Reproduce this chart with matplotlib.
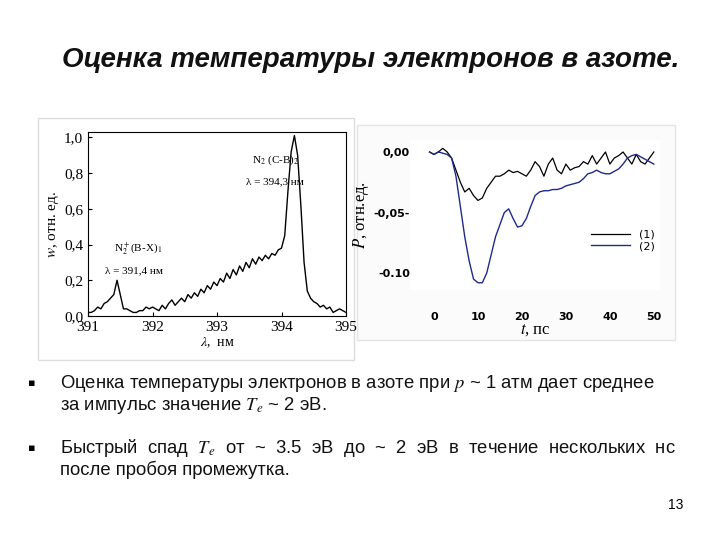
import matplotlib
matplotlib.use("Agg")
import matplotlib.pyplot as plt
import numpy as np

wl = np.round(np.arange(391.0, 395.001, 0.05), 2)
intensity = [0.02,0.02,0.03,0.05,0.04,0.07,0.08,0.10,0.12,0.20,0.12,0.04,0.04,0.03,0.02,0.02,
             0.03,0.03,0.05,0.04,0.05,0.04,0.03,0.06,0.04,0.07,0.09,0.06,0.08,0.10,0.08,0.12,
             0.10,0.13,0.11,0.15,0.13,0.17,0.15,0.19,0.17,0.21,0.19,0.24,0.21,0.26,0.23,0.28,
             0.25,0.30,0.27,0.32,0.29,0.33,0.31,0.34,0.32,0.35,0.34,0.37,0.38,0.45,0.70,0.92,
             1.01,0.90,0.62,0.30,0.14,0.10,0.08,0.07,0.05,0.06,0.04,0.05,0.02,0.03,0.04,0.03,0.02]

t = np.arange(-1, 51)
p1 = [0.000,-0.002,0.000,0.003,0.000,-0.005,-0.015,-0.025,-0.033,-0.030,-0.036,-0.040,-0.038,
      -0.030,-0.025,-0.020,-0.020,-0.018,-0.015,-0.017,-0.016,-0.018,-0.020,-0.015,-0.008,-0.012,
      -0.020,-0.010,-0.005,-0.015,-0.018,-0.010,-0.015,-0.013,-0.012,-0.008,-0.010,-0.003,-0.010,
      -0.005,0.000,-0.010,-0.005,-0.003,0.000,-0.005,-0.010,-0.002,-0.008,-0.010,-0.005,0.000]
p2 = [0.000,-0.002,0.000,-0.001,-0.002,-0.005,-0.020,-0.045,-0.070,-0.090,-0.105,-0.108,-0.108,
      -0.100,-0.085,-0.070,-0.060,-0.050,-0.047,-0.055,-0.062,-0.061,-0.055,-0.045,-0.036,-0.033,
      -0.032,-0.032,-0.031,-0.031,-0.030,-0.028,-0.027,-0.026,-0.025,-0.022,-0.018,-0.017,-0.015,
      -0.017,-0.018,-0.018,-0.016,-0.014,-0.010,-0.005,-0.003,-0.002,-0.004,-0.006,-0.008,-0.010]

plt.rcParams['mathtext.fontset'] = 'stix'
W, H = 720, 540
fig = plt.figure(figsize=(7.2, 5.4), dpi=100)
def rect(x0, y0, x1, y1):
    return [x0/W, 1-y1/H, (x1-x0)/W, (y1-y0)/H]

serif = "Liberation Serif"
bg = fig.add_axes(rect(0, 0, W, H)); bg.set_xlim(0, W); bg.set_ylim(H, 0); bg.axis("off")
bg.add_patch(plt.Rectangle((38, 118), 316, 242, facecolor="white", edgecolor="#dddddd", lw=1))
bg.add_patch(plt.Rectangle((357, 125), 318, 215, facecolor="#fbfbfb", edgecolor="#e4e4e4", lw=1))

fig.text(371/W, 1-60/H, "Оценка температуры электронов в азоте.", ha="center", va="center",
         fontsize=20, fontstyle="italic", fontweight="bold", family="Liberation Sans", color="#111111")

ax = fig.add_axes(rect(88, 132, 346, 316))
ax.plot(wl, intensity, color="black", lw=1)
ax.set_xlim(391, 395); ax.set_ylim(0, 1.03)
ax.set_xticks([391, 392, 393, 394, 395])
ax.set_yticks([0, 0.2, 0.4, 0.6, 0.8, 1.0])
ax.set_yticklabels(["0,0", "0,2", "0,4", "0,6", "0,8", "1,0"])
ax.tick_params(labelsize=11, direction="in", length=3)
for lab in ax.get_xticklabels() + ax.get_yticklabels():
    lab.set_family(serif)
ax.set_xlabel("$\\lambda$,  нм", fontsize=10, family=serif, labelpad=1)
ax.set_ylabel("$w$, отн. ед.", fontsize=11, family=serif, labelpad=2)
ax.text(393.55, 0.86, "N$_2$ (C-B)$_2$", fontsize=8, family=serif)
ax.text(393.45, 0.74, "λ = 394,3 нм", fontsize=8, family=serif)
ax.text(391.4, 0.36, "N$_2^+$(B-X)$_1$", fontsize=8, family=serif)
ax.text(391.27, 0.24, "λ = 391,4 нм", fontsize=8, family=serif)

ax2 = fig.add_axes(rect(410, 140, 660, 290))
ax2.plot(t, p1, color="black", lw=0.9, label="(1)")
ax2.plot(t, p2, color="#1f2a8a", lw=1.0, label="(2)")
ax2.set_xlim(-5.45, 51.4); ax2.set_ylim(-0.114, 0.0099)
for s in ax2.spines.values():
    s.set_visible(False)
ax2.set_xticks([0, 10, 20, 30, 40, 50])
ax2.set_yticks([-0.10, -0.05, 0.0])
ax2.set_yticklabels(["-0.10", "-0,05-", "0,00"])
ax2.tick_params(length=0, labelsize=8, pad=16, axis="x")
ax2.tick_params(length=0, labelsize=8, pad=0, axis="y")
for lab in ax2.get_xticklabels() + ax2.get_yticklabels():
    lab.set_fontweight("bold")
ax2.set_xlabel("$t$, пс", fontsize=12, family=serif, labelpad=0)
ax2.set_ylabel("$P$, отн.ед.", fontsize=12, family=serif, labelpad=2)
ax2.legend(loc="center right", bbox_to_anchor=(1.0, 0.33), frameon=False, fontsize=8,
           handlelength=3.5, borderpad=0, labelspacing=0.1)

bul = dict(fontsize=13.3, family="Liberation Sans", color="#111111", va="center")
fig.text(28/W, 1-383/H, "▪", fontsize=8, va="center")
fig.text(60/W, 1-383/H, "Оценка температуры электронов в азоте при $p$ ~ 1 атм дает среднее", **bul)
fig.text(60/W, 1-405/H, "за импульс значение $T_e$ ~ 2 эВ.", **bul)
fig.text(28/W, 1-448/H, "▪", fontsize=8, va="center")
fig.text(60/W, 1-448/H, "Быстрый  спад  $T_e$  от  ~  3.5  эВ  до  ~  2  эВ  в  течение  нескольких  нс", **bul)
fig.text(60/W, 1-470/H, "после пробоя промежутка.", **bul)
fig.text(668/W, 1-505/H, "13", fontsize=10, family="Liberation Sans", va="center")

fig.savefig("out.png", dpi=100)
